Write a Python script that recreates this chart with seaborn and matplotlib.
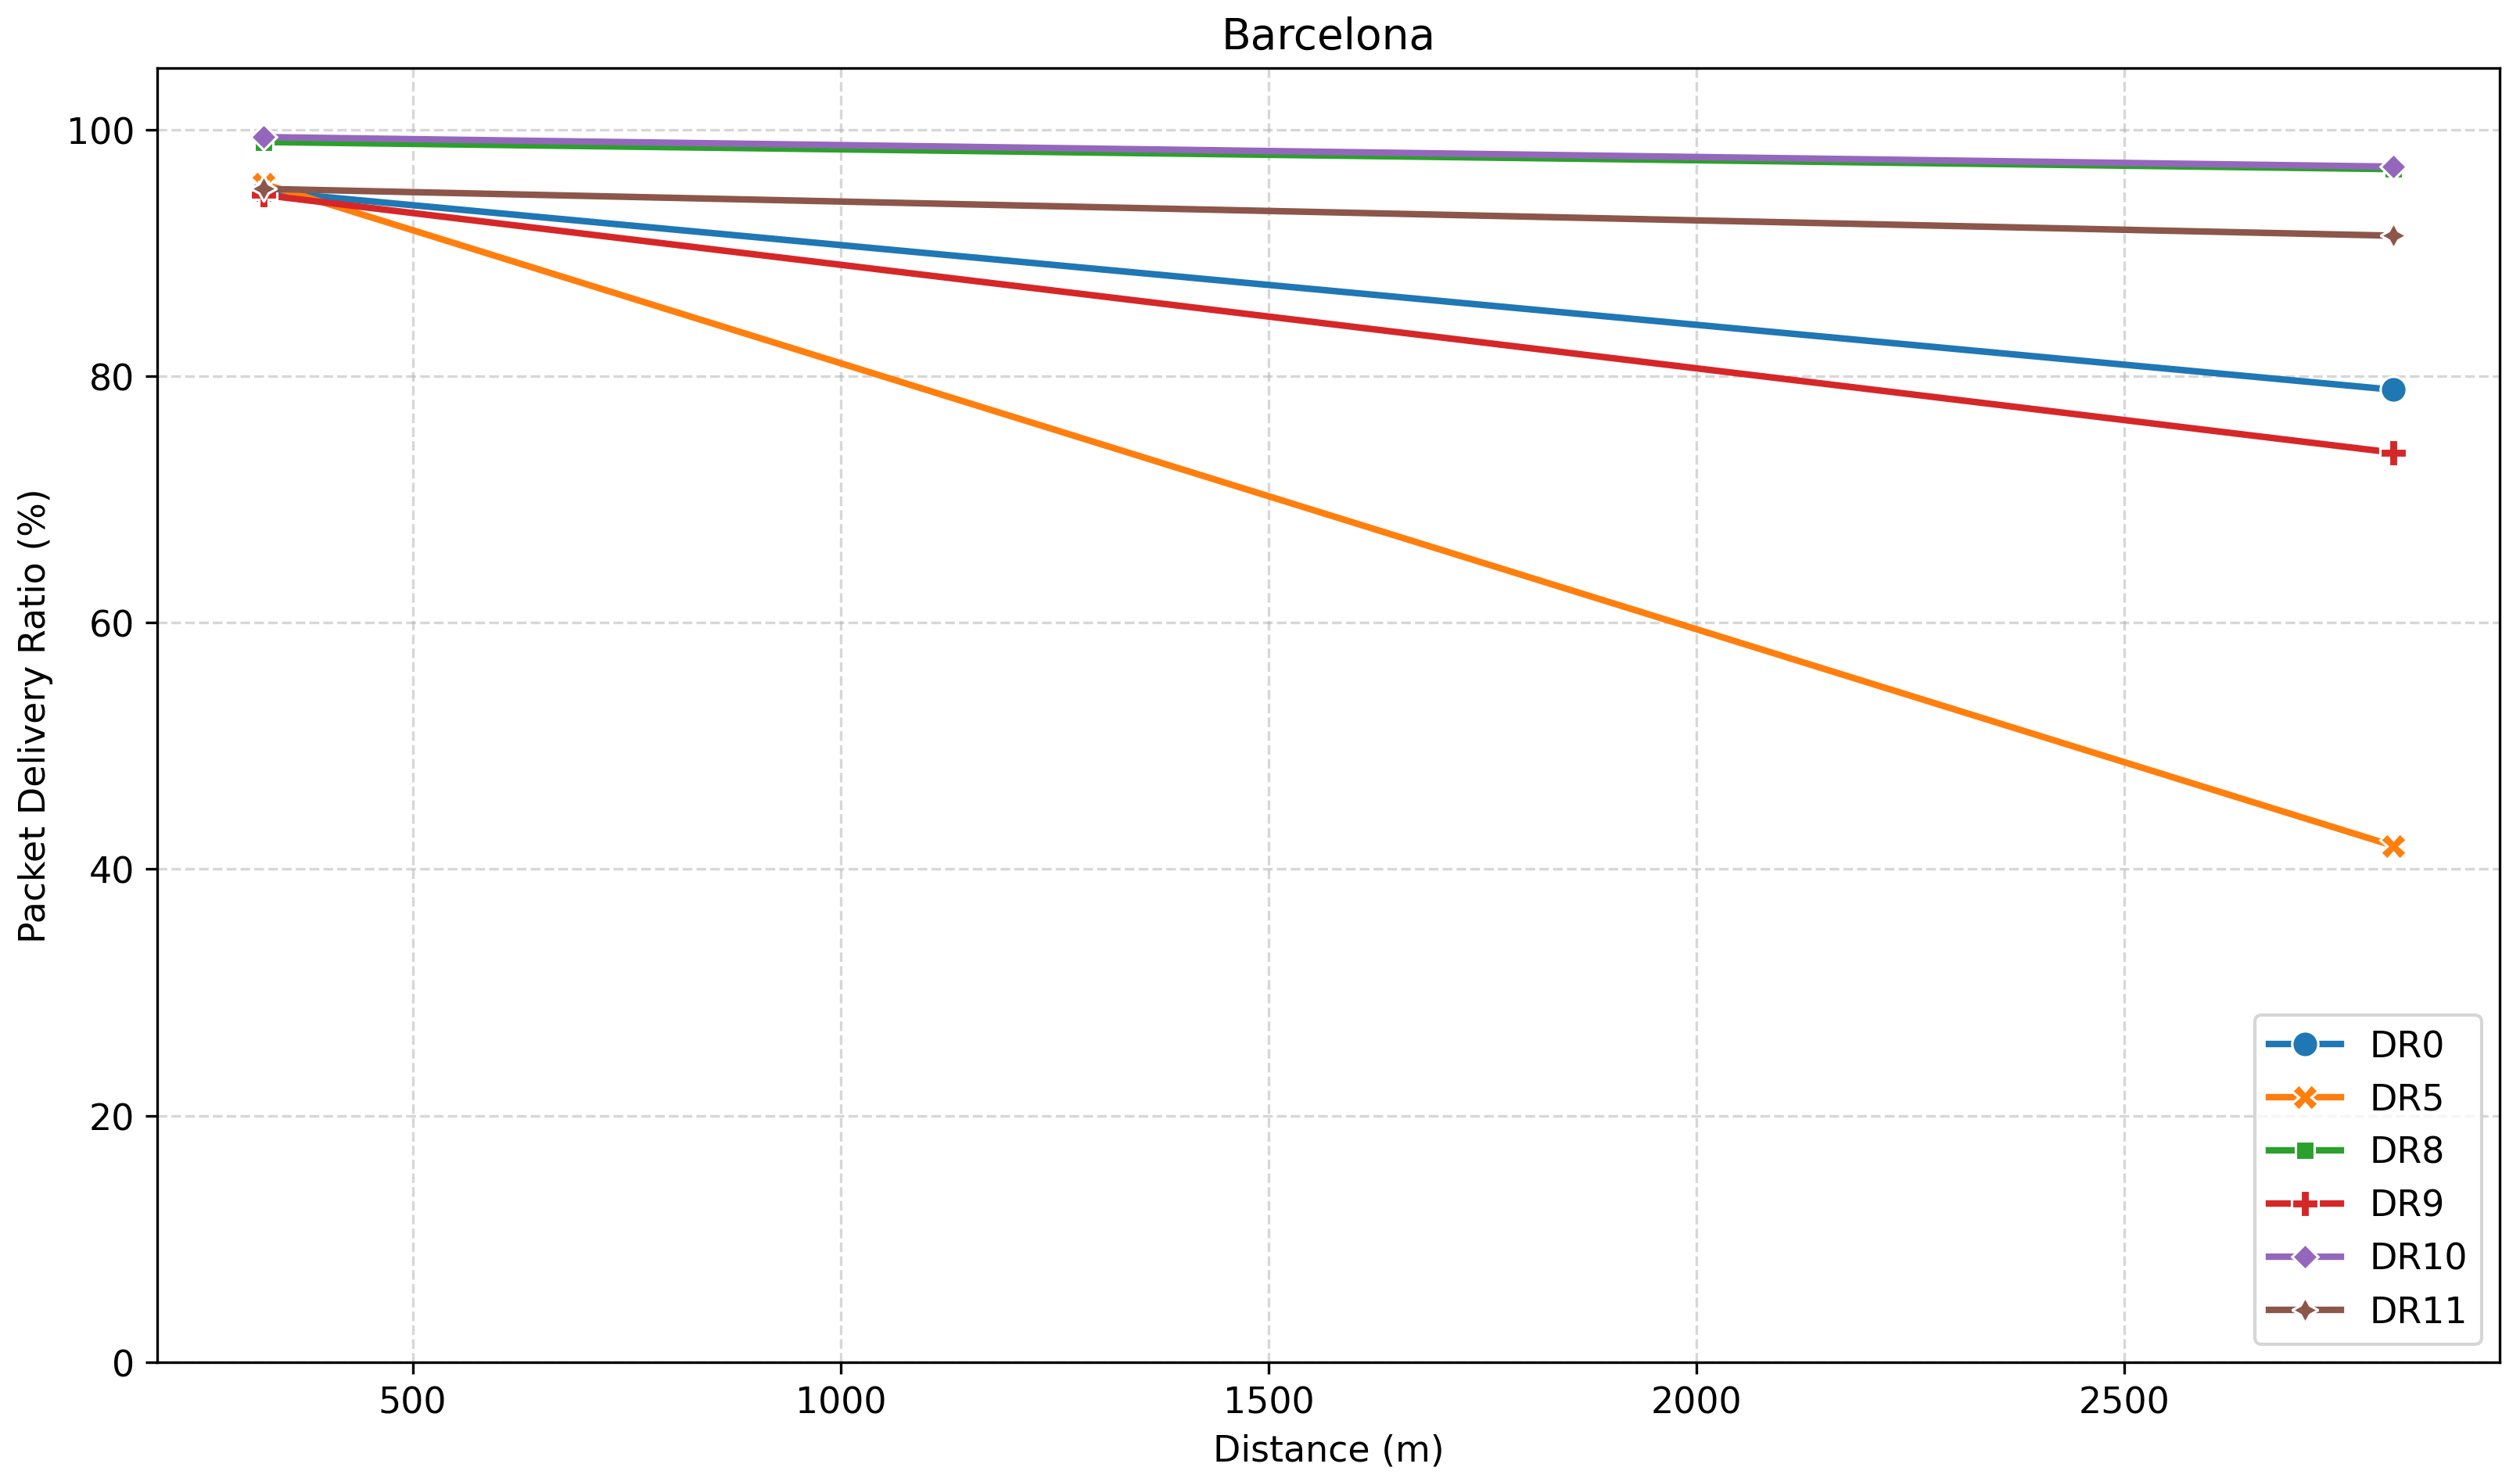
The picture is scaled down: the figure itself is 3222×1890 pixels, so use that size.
import pandas as pd
import matplotlib.pyplot as plt
import seaborn as sns

distances = [326, 2814]
data_rates = ['DR0', 'DR5', 'DR8', 'DR9', 'DR10', 'DR11']
pdr_dr0 = [95.0, 78.9]
pdr_dr5 = [95.6, 41.9]
pdr_dr8 = [99.0, 96.8]
pdr_dr9 = [94.7, 73.8]
pdr_dr10 = [99.4, 97.0]
pdr_dr11 = [95.2, 91.4]

series = [pdr_dr0, pdr_dr5, pdr_dr8, pdr_dr9, pdr_dr10, pdr_dr11]
rows = []
for dr, vals in zip(data_rates, series):
    for d, v in zip(distances, vals):
        rows.append({'Distance': d, 'PDR': v, 'DR': dr})
df = pd.DataFrame(rows)

plt.rcParams['font.size'] = 11

fig = plt.figure(figsize=(10.74, 6.303), dpi=300)
ax = fig.add_axes([0.0624, 0.0783, 0.9296, 0.8752])

sns.lineplot(data=df, x='Distance', y='PDR', hue='DR', style='DR',
             hue_order=data_rates, style_order=data_rates,
             markers=True, dashes=False, linewidth=2, markersize=8, ax=ax)

ax.set_ylim(0, 105)
ax.set_title('Barcelona')
ax.set_xlabel('Distance (m)')
ax.set_ylabel('Packet Delivery Ratio (%)')
ax.grid(True, linestyle='--', alpha=0.5)

handles, labels = ax.get_legend_handles_labels()
ax.legend(handles, labels, loc='lower right')

fig.savefig('out.png', dpi=300)
